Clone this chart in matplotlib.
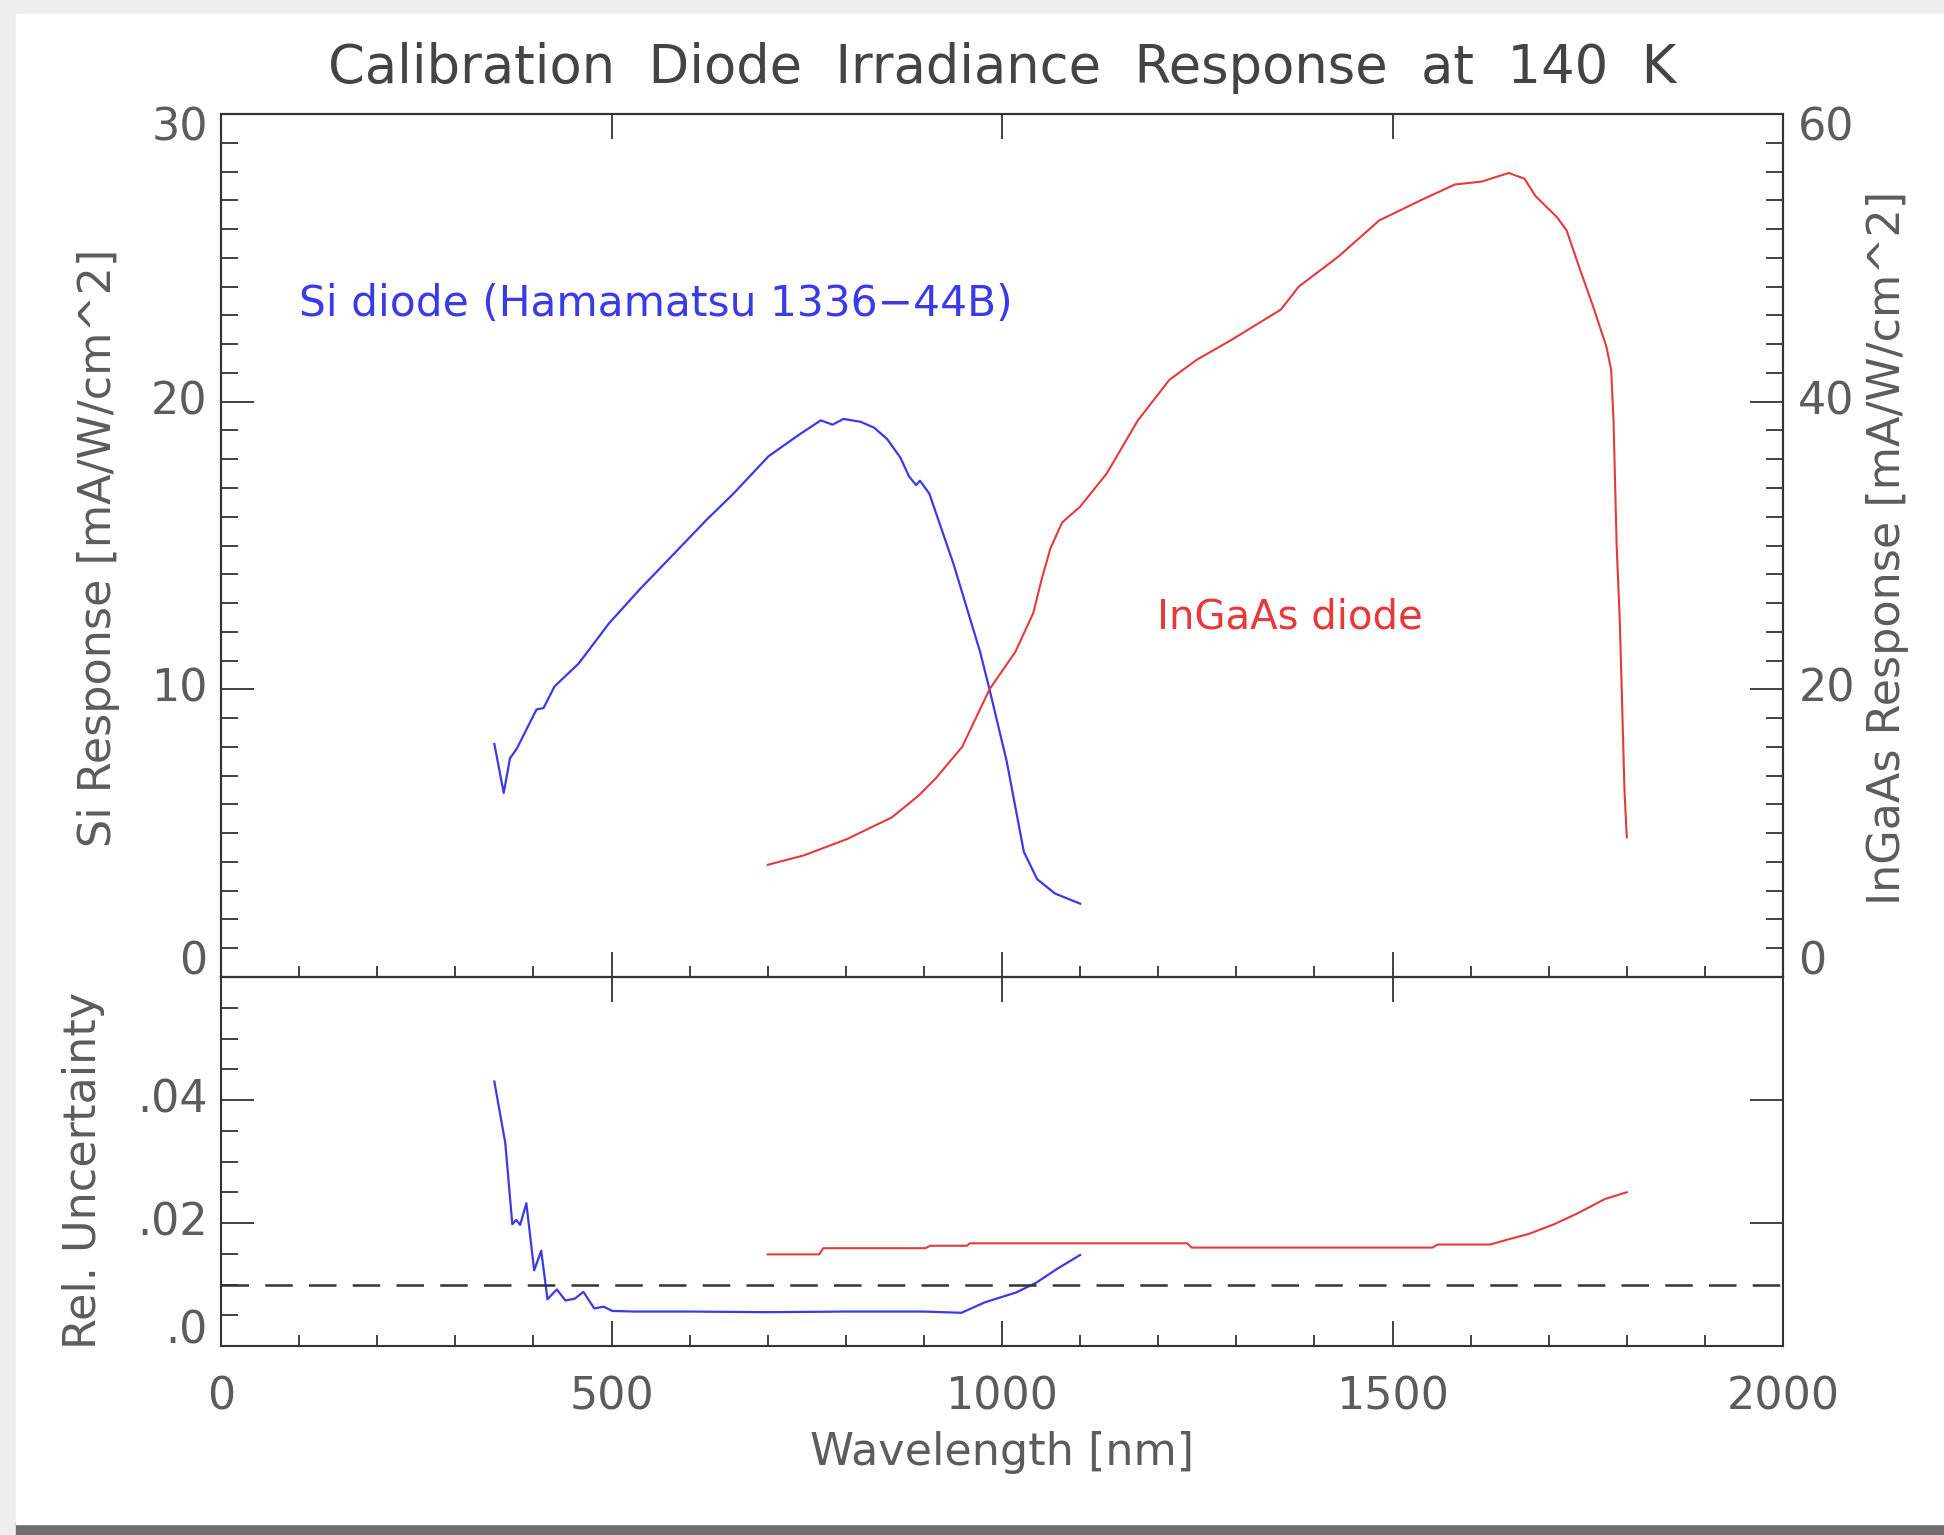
import numpy as np
import matplotlib.pyplot as plt
from matplotlib.patches import Rectangle
from matplotlib.ticker import MultipleLocator

# --- data ---
# Si diode response [mA/W/cm^2] (left axis)
si_wl = [350, 362, 370, 379, 404, 413, 427, 458, 497, 537, 576, 622, 656, 701,
         740, 768, 783, 797, 819, 836, 853, 870, 881, 890, 895, 907, 938, 972,
         984, 1006, 1028, 1045, 1068, 1100]
si_resp = [8.1, 6.4, 7.6, 7.95, 9.3, 9.35, 10.1, 10.9, 12.3, 13.5, 14.6, 15.9, 16.8, 18.1,
           18.85, 19.35, 19.2, 19.4, 19.3, 19.1, 18.7, 18.05, 17.4, 17.1, 17.25, 16.8, 14.35, 11.3,
           10.0, 7.5, 4.35, 3.4, 2.9, 2.55]

# InGaAs diode response [mA/W/cm^2] (right axis)
ingaas_wl = [700, 746, 802, 859, 893, 915, 949, 984, 1017, 1040, 1051, 1062, 1077, 1100,
             1134, 1174, 1214, 1249, 1294, 1357, 1380, 1431, 1483, 1540, 1580, 1614, 1649,
             1669, 1683, 1711, 1723, 1740, 1757, 1774, 1780, 1783, 1787, 1791, 1794, 1797, 1800]
ingaas_resp = [7.8, 8.45, 9.6, 11.1, 12.6, 13.8, 16.0, 20.0, 22.6, 25.3, 27.7, 29.8, 31.6, 32.7,
               35.0, 38.7, 41.5, 42.9, 44.3, 46.4, 48.0, 50.1, 52.6, 54.1, 55.1, 55.3, 55.9,
               55.5, 54.3, 52.8, 51.9, 49.2, 46.6, 43.8, 42.2, 38.7, 30.0, 24.8, 19.0, 13.0, 9.7]

# relative uncertainties
si_unc_wl = [350, 364, 373, 378, 383, 391, 401, 410, 418, 430, 441, 453, 464, 478, 490, 501,
             530, 600, 700, 800, 900, 948, 978, 1018, 1044, 1070, 1100]
si_unc = [0.043, 0.033, 0.0198, 0.0205, 0.0197, 0.0232, 0.0123, 0.0155, 0.0076, 0.0092, 0.0074,
          0.0077, 0.0088, 0.0061, 0.0064, 0.0057, 0.0056, 0.0056, 0.0055, 0.0056, 0.0056, 0.0054,
          0.0071, 0.0087, 0.0103, 0.0125, 0.0148]

ingaas_unc_wl = [700, 766, 771, 902, 908, 955, 959, 1237, 1243, 1551, 1558, 1625, 1650, 1674,
                 1707, 1739, 1772, 1800]
ingaas_unc = [0.0149, 0.0149, 0.0159, 0.0159, 0.0163, 0.0163, 0.0167, 0.0167, 0.016, 0.016,
              0.0165, 0.0165, 0.0174, 0.0182, 0.0198, 0.0217, 0.0239, 0.025]

unc_limit = 0.01

BLUE = '#3a3ae6'
RED = '#e63a3a'
TXT = '#5c5c5c'
TICK_FS = 32
LABEL_FS = 32
W, H = 1944, 1535

fig = plt.figure(figsize=(W / 100, H / 100), dpi=100, facecolor='#eeeeee')

# screenshot "card" with a dark bottom edge
fig.patches.append(Rectangle((16 / W, 0), 1, 14 / H, transform=fig.transFigure,
                             color='#6e6e6e', zorder=-10))
fig.patches.append(Rectangle((16 / W, 1 - 1524 / H), 1, (1524 - 14) / H,
                             transform=fig.transFigure, color='white', zorder=-10))

left, width = 221 / W, (1783 - 221) / W
ax1 = fig.add_axes([left, 1 - 977 / H, width, (977 - 114) / H])
ax2 = fig.add_axes([left, 1 - 1346 / H, width, (1346 - 977) / H])
ax1r = ax1.twinx()

# --- curves ---
ax1.plot(si_wl, si_resp, color=BLUE, lw=1.6)
ax1r.plot(ingaas_wl, ingaas_resp, color=RED, lw=1.5)
ax2.plot(si_unc_wl, si_unc, color=BLUE, lw=1.6)
ax2.plot(ingaas_unc_wl, ingaas_unc, color=RED, lw=1.5)
ax2.axhline(unc_limit, color='#333333', lw=1.8, linestyle=(0, (11, 6.5)))

ax1.text(100, 23.4, 'Si diode (Hamamatsu 1336\u221244B)', color=BLUE, fontsize=30.5, va='center')
ax1r.text(1198, 25.0, 'InGaAs diode', color=RED, fontsize=29, va='center')

# --- axes styling ---
for ax in (ax1, ax2, ax1r):
    ax.set_xlim(0, 2000)
    ax.patch.set_alpha(0)
    for sp in ax.spines.values():
        sp.set_color('#333333')
        sp.set_linewidth(1.5)
    ax.xaxis.set_major_locator(MultipleLocator(500))
    ax.xaxis.set_minor_locator(MultipleLocator(100))
    ax.tick_params(which='both', direction='in', colors='#333333', width=1.3,
                   labelsize=TICK_FS, labelcolor=TXT)
    ax.tick_params(axis='x', which='major', length=18)
    ax.tick_params(axis='x', which='minor', length=8)
    ax.tick_params(axis='y', which='major', length=24)
    ax.tick_params(axis='y', which='minor', length=12)

ax1.set_ylim(0, 30)
ax1.yaxis.set_major_locator(MultipleLocator(10))
ax1.yaxis.set_minor_locator(MultipleLocator(1))
ax1.tick_params(top=True, bottom=True, left=True, right=False,
                labelbottom=False, labelleft=False)

ax1r.set_ylim(0, 60)
ax1r.yaxis.set_major_locator(MultipleLocator(20))
ax1r.yaxis.set_minor_locator(MultipleLocator(2))
ax1r.tick_params(axis='y', right=True, labelright=False)
ax1r.tick_params(axis='x', which='both', top=False, bottom=False)

ax2.set_ylim(0, 0.06)
ax2.yaxis.set_major_locator(MultipleLocator(0.02))
ax2.yaxis.set_minor_locator(MultipleLocator(0.005))
ax2.tick_params(top=True, bottom=True, left=True, right=True,
                labelleft=False, labelright=False)
ax2.tick_params(axis='x', pad=21)


def ylabels(ax, vals, texts, side, shifts):
    # tick labels drawn as text so the end labels can sit inside the range, as in the original
    for v, t, s in zip(vals, texts, shifts):
        if side == 'left':
            ax.annotate(t, xy=(0, v), xycoords=('axes fraction', 'data'), xytext=(-9.5, s),
                        textcoords='offset points', ha='right', va='center',
                        fontsize=TICK_FS, color=TXT)
        else:
            ax.annotate(t, xy=(1, v), xycoords=('axes fraction', 'data'), xytext=(11, s),
                        textcoords='offset points', ha='left', va='center',
                        fontsize=TICK_FS, color=TXT)


ylabels(ax1, [0, 10, 20, 30], ['0', '10', '20', '30'], 'left', [11, 0, 0, -10])
ylabels(ax1r, [0, 20, 40, 60], ['0', '20', '40', '60'], 'right', [11, 0, 0, -10])
ylabels(ax2, [0, 0.02, 0.04], ['.0', '.02', '.04'], 'left', [11, 0, 0])

# --- titles and axis labels ---
fig.text(1002 / W, 1 - 68 / H, 'Calibration  Diode  Irradiance  Response  at  140  K',
         ha='center', va='center', fontsize=38, color='#444444')
fig.text(99 / W, 1 - 548 / H, 'Si Response [mA/W/cm^2]', rotation=90,
         ha='center', va='center', fontsize=LABEL_FS, color=TXT)
fig.text(1887 / W, 1 - 548 / H, 'InGaAs Response [mA/W/cm^2]', rotation=90,
         ha='center', va='center', fontsize=LABEL_FS, color=TXT)
fig.text(84 / W, 1 - 1170 / H, 'Rel. Uncertainty', rotation=90,
         ha='center', va='center', fontsize=LABEL_FS, color=TXT)
fig.text(1002 / W, 1 - 1453 / H, 'Wavelength [nm]',
         ha='center', va='center', fontsize=LABEL_FS, color=TXT)

fig.savefig('out.png', dpi=100, facecolor=fig.get_facecolor())
